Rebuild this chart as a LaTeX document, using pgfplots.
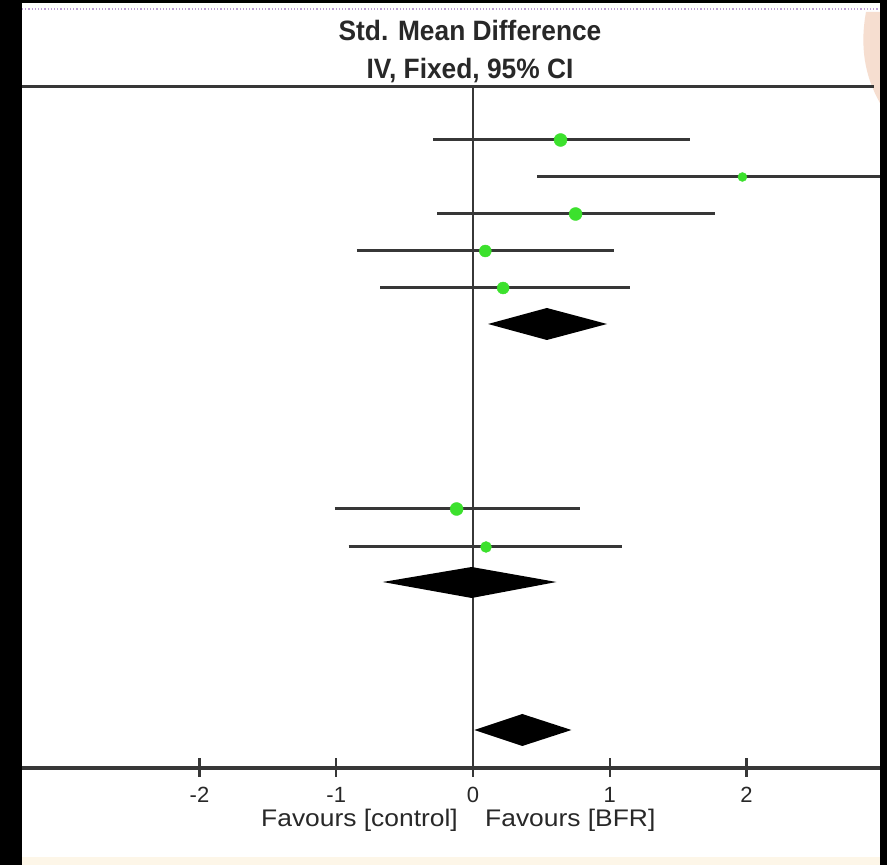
\documentclass[border=0pt]{standalone}
\usepackage{pgfplots}
\pgfplotsset{compat=1.18}
\usepackage{fontspec}
\setmainfont{Liberation Sans}
\newfontfamily\titlefont{Liberation Sans}[FakeStretch=0.94]
\newfontfamily\labelfont{Liberation Sans}[FakeStretch=1.1]
\definecolor{ciline}{RGB}{55,55,55}
\definecolor{dotgreen}{RGB}{60,225,45}
\definecolor{txt}{RGB}{40,40,40}
\definecolor{beige}{RGB}{253,246,232}
\definecolor{lav}{RGB}{190,160,215}
\definecolor{peach}{RGB}{246,222,208}
\begin{document}
\begin{tikzpicture}[x=1pt,y=1pt]
\useasboundingbox (0,0) rectangle (887,865);
\fill[white] (0,0) rectangle (887,865);
\fill[beige] (22,0) rectangle (880,8);
\fill[peach] (880,853) -- (866,853) .. controls (860,820) and (864,790) .. (880,762) -- cycle;
\draw[lav, line width=1.2pt, dotted] (22,856) -- (880,856);
\begin{axis}[
  at={(22pt,97pt)}, anchor=south west,
  scale only axis, width=858pt, height=681pt,
  xmin=-3.298, xmax=2.976, ymin=97, ymax=778,
  clip=false,
  axis line style={draw=none},
  ytick=\empty,
  xtick={-2,-1,0,1,2},
  xticklabels={{-2},{-1},0,1,2},
  xtick pos=bottom,
  major tick length=0pt,
  unbounded coords=jump,
  xticklabel style={anchor=center, yshift=-27pt, font=\fontsize{22}{22}\selectfont, text=txt},
]
% axis lines
\addplot[ciline, line width=3.2pt] coordinates {(-3.298,97) (2.976,97)};
\addplot[ciline, line width=3pt] coordinates {(-3.298,778) (2.93,778)};
\addplot[ciline, line width=2.4pt] coordinates {(0,97) (0,778)};
% tick marks
\addplot[ciline, line width=2.4pt] coordinates {(-2,88) (-2,107) (-2,nan) (-1,88) (-1,107) (-1,nan) (0,88) (0,107) (0,nan) (1,88) (1,107) (1,nan) (2,88) (2,107)};
% confidence intervals
\addplot[ciline, line width=3pt] coordinates {(-0.29,725) (1.59,725)};
\addplot[ciline, line width=3pt] coordinates {(0.47,688) (2.976,688)};
\addplot[ciline, line width=3pt] coordinates {(-0.26,651) (1.77,651)};
\addplot[ciline, line width=3pt] coordinates {(-0.85,614) (1.03,614)};
\addplot[ciline, line width=3pt] coordinates {(-0.68,577) (1.15,577)};
\addplot[ciline, line width=3pt] coordinates {(-1.01,356) (0.78,356)};
\addplot[ciline, line width=3pt] coordinates {(-0.91,318) (1.09,318)};
% point estimates
\addplot[only marks, mark=*, mark size=6.5pt, color=dotgreen] coordinates {(0.64,725)};
\addplot[only marks, mark=*, mark size=4.5pt, color=dotgreen] coordinates {(1.97,688)};
\addplot[only marks, mark=*, mark size=6.5pt, color=dotgreen] coordinates {(0.75,651)};
\addplot[only marks, mark=*, mark size=6pt, color=dotgreen] coordinates {(0.09,614)};
\addplot[only marks, mark=*, mark size=6pt, color=dotgreen] coordinates {(0.22,577)};
\addplot[only marks, mark=*, mark size=6.5pt, color=dotgreen] coordinates {(-0.12,356)};
\addplot[only marks, mark=*, mark size=5.5pt, color=dotgreen] coordinates {(0.095,318)};
% pooled diamonds
\addplot[fill=black, draw=none] coordinates {(0.11,541) (0.54,557) (0.98,541) (0.54,525)} -- cycle;
\addplot[fill=black, draw=none] coordinates {(-0.66,283) (-0.01,298) (0.61,283) (-0.01,267)} -- cycle;
\addplot[fill=black, draw=none] coordinates {(0.01,135) (0.36,151) (0.72,135) (0.36,119)} -- cycle;
\end{axis}
\node[font=\titlefont\bfseries\fontsize{28}{28}\selectfont, text=txt] at (470,834) {Std. Mean Difference};
\node[font=\titlefont\bfseries\fontsize{28}{28}\selectfont, text=txt] at (470,794) {IV, Fixed, 95\% CI};
\node[font=\labelfont\fontsize{24}{24}\selectfont, text=txt, anchor=east, inner sep=0pt] at (458,45) {Favours [control]};
\node[font=\labelfont\fontsize{24}{24}\selectfont, text=txt, anchor=west, inner sep=0pt] at (485,45) {Favours [BFR]};
\fill[black] (0,0) rectangle (22,865);
\fill[black] (880,0) rectangle (887,865);
\fill[black] (0,862) rectangle (887,865);
\end{tikzpicture}
\end{document}
